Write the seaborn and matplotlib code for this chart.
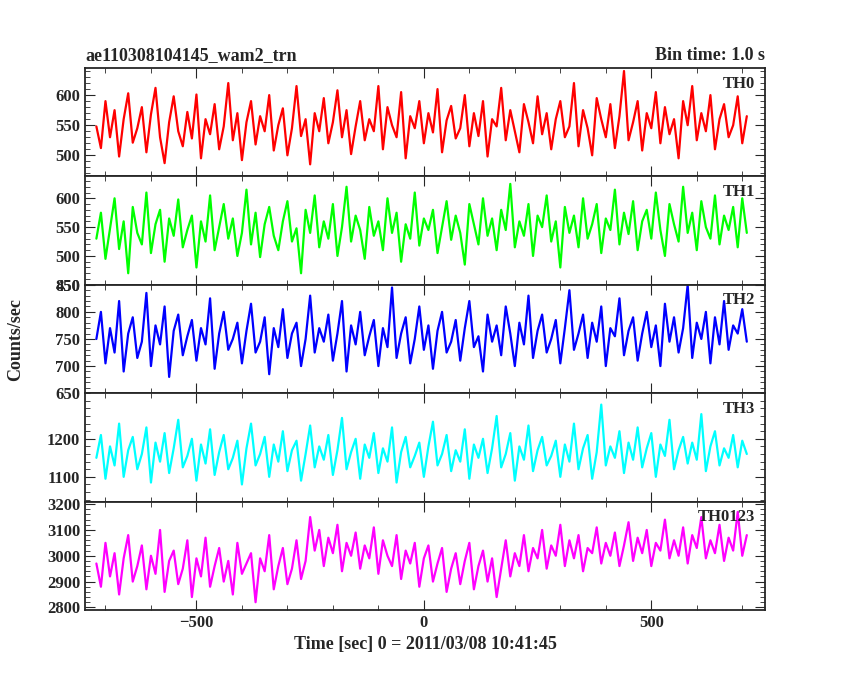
import numpy as np
import pandas as pd
import matplotlib
matplotlib.use("Agg")
import matplotlib.pyplot as plt
from matplotlib.ticker import MultipleLocator, FixedLocator
import seaborn as sns

sns.set_style("ticks")
plt.rcParams['font.family'] = ['Liberation Serif', 'DejaVu Serif']
plt.rcParams['font.weight'] = 'bold'

# count rates, 10 s samples from -720 s
th0 = [548,512,590,530,575,498,560,603,521,545,580,505,568,612,530,487,555,598,540,515,
       572,528,601,495,560,535,585,510,548,620,525,570,492,555,590,518,565,540,600,508,
       550,578,500,545,615,532,560,485,570,540,595,520,555,608,530,575,502,548,590,525,
       560,540,615,510,580,550,530,605,495,565,545,590,520,570,538,610,505,558,582,528,
       545,600,515,570,532,590,498,560,548,612,525,575,540,505,585,555,520,598,535,570,
       510,560,590,530,548,620,515,575,545,500,595,560,530,585,512,565,640,525,555,590,
       508,570,545,605,520,580,535,560,495,590,550,615,525,570,540,600,510,560,585,530,
       550,598,520,565]
th1 = [530,575,495,548,600,512,560,470,585,540,520,610,505,555,580,490,565,535,598,515,
       545,570,480,560,525,605,510,550,590,530,565,500,540,615,520,575,498,555,585,535,
       510,560,595,525,548,470,580,540,605,515,560,530,590,500,550,620,525,570,545,495,
       585,535,560,510,600,540,575,490,555,530,610,518,565,545,580,505,550,595,528,570,
       540,485,590,555,520,600,535,565,510,580,545,625,515,560,535,590,500,570,550,605,
       525,560,480,585,540,570,515,600,530,555,590,505,565,545,615,520,575,538,595,510,
       560,580,530,610,545,500,590,555,525,620,540,575,510,595,550,530,605,520,570,545,
       585,515,600,540]
th2 = [750,800,705,770,725,820,690,760,790,715,745,835,700,775,740,810,680,765,795,720,
       755,785,710,770,740,825,695,760,800,730,750,780,705,765,815,725,745,790,685,770,
       735,805,715,760,780,700,750,830,725,770,745,795,710,760,820,690,775,740,800,720,
       755,785,700,770,735,845,715,760,790,705,750,810,730,775,695,765,800,725,745,785,
       710,770,820,735,755,690,795,745,775,720,810,760,700,780,740,830,715,765,795,725,
       750,785,705,770,840,730,760,795,715,780,745,810,700,770,755,825,720,765,790,710,
       760,800,735,775,700,815,745,790,725,770,850,715,780,750,800,705,790,740,820,730,
       775,760,805,745]
th3 = [1150,1210,1095,1180,1130,1240,1100,1170,1205,1120,1160,1230,1085,1190,1140,1215,1110,1175,1250,1125,
       1155,1200,1090,1185,1135,1225,1105,1165,1210,1120,1150,1195,1080,1175,1240,1130,1160,1205,1100,1185,
       1140,1220,1115,1170,1195,1090,1160,1235,1125,1180,1145,1210,1105,1170,1255,1120,1165,1200,1095,1185,
       1150,1215,1110,1175,1140,1230,1085,1165,1205,1125,1155,1190,1100,1180,1245,1130,1160,1210,1115,1170,
       1140,1225,1095,1185,1150,1200,1110,1175,1260,1125,1160,1215,1090,1180,1145,1235,1115,1170,1205,1130,
       1155,1195,1100,1185,1140,1240,1120,1175,1210,1095,1165,1290,1130,1180,1150,1220,1110,1190,1145,1230,
       1125,1175,1215,1100,1185,1155,1250,1120,1170,1205,1135,1190,1145,1265,1115,1180,1220,1130,1175,1150,
       1210,1125,1195,1160]
th0123 = [2970,2880,3050,2920,3010,2850,2990,3080,2900,2960,3040,2870,3000,2930,3100,2860,2980,3020,2890,2950,
          3060,2840,2990,2920,3070,2880,2960,3030,2900,2980,2850,3050,2930,2970,3010,2820,2990,2940,3080,2870,
          2960,3030,2890,2950,3060,2910,2980,3150,3020,3100,2960,3070,3010,3120,2940,3050,3000,3090,2950,3040,
          2990,3110,2930,3060,3000,2960,3080,2910,3020,2970,3050,2880,2990,3040,2900,2970,3030,2860,2950,3010,
          2890,2980,3050,2870,2960,3020,2900,2990,2840,2950,3060,2920,3010,2960,3080,2940,3030,2990,3100,2950,
          3040,3000,3120,2960,3060,2990,3080,2940,3030,3010,3110,2970,3050,3000,3090,2960,3040,3130,2980,3070,
          3010,3100,2960,3050,3020,3140,2990,3060,3000,3110,2970,3080,3030,3150,2990,3060,3010,3120,2980,3070,
          3020,3170,3000,3080]

names = ["TH0", "TH1", "TH2", "TH3", "TH0123"]
series = [th0, th1, th2, th3, th0123]
colors = ["#ff0000", "#00ff00", "#0000ff", "#00ffff", "#ff00ff"]
ylims = [(465, 645), (450, 638), (650, 850), (1035, 1320), (2790, 3210)]
yticks = [[500, 550, 600], [450, 500, 550, 600], [650, 700, 750, 800, 850],
          [1100, 1200], [2800, 2900, 3000, 3100, 3200]]
minor = [10, 10, 10, 20, 20]

fig, axes = plt.subplots(5, 1, sharex=True, figsize=(8.5, 6.8), dpi=100,
                         gridspec_kw=dict(hspace=0))
fig.subplots_adjust(left=0.1, right=0.9, top=0.9, bottom=0.103)

for ax, name, vals, c, yl, yt, mn in zip(axes, names, series, colors, ylims, yticks, minor):
    t = -720 + 10 * np.arange(len(vals))
    df = pd.DataFrame({"t": t, "rate": vals})
    sns.lineplot(data=df, x="t", y="rate", ax=ax, color=c, linewidth=1.6)
    ax.set_ylim(*yl)
    ax.set_xlim(-745, 750)
    ax.set_xlabel("")
    ax.set_ylabel("")
    ax.yaxis.set_major_locator(FixedLocator(yt))
    ax.yaxis.set_minor_locator(MultipleLocator(mn))
    ax.xaxis.set_major_locator(MultipleLocator(500))
    ax.xaxis.set_minor_locator(MultipleLocator(100))
    ax.tick_params(which="both", direction="in", top=True, right=True, labelsize=12)
    ax.tick_params(which="major", length=7)
    ax.tick_params(which="minor", length=3.5)
    for s in ax.spines.values():
        s.set_linewidth(1.3)
    ax.text(0.985, 0.93, name, transform=ax.transAxes, ha="right", va="top",
            fontsize=12, fontweight="bold")

axes[0].set_title("ae110308104145_wam2_trn", loc="left", fontsize=13, fontweight="bold")
axes[0].set_title("Bin time: 1.0 s", loc="right", fontsize=13, fontweight="bold")
axes[-1].set_xlabel("Time [sec] 0 = 2011/03/08 10:41:45", fontsize=13, fontweight="bold")
fig.text(0.018, 0.5, "Counts/sec", rotation=90, va="center", ha="center",
         fontsize=13, fontweight="bold")

fig.savefig("out.png", dpi=100, facecolor="white")
